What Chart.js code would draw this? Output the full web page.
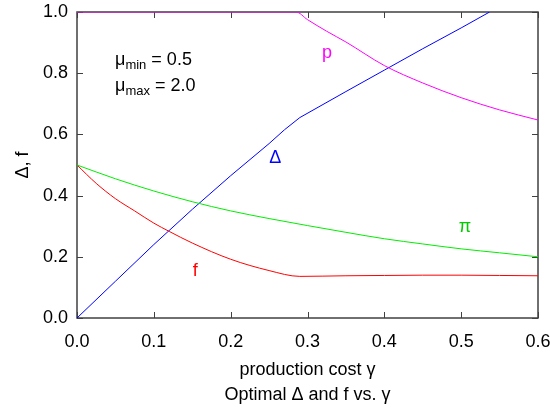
<!DOCTYPE html>
<html>
<head>
<meta charset="utf-8">
<script src="https://cdn.jsdelivr.net/npm/chart.js@4.4.1/dist/chart.umd.min.js"></script>
<style>body{margin:0;background:#fff}</style>
</head>
<body>
<canvas id="c" width="550" height="411"></canvas>
<script>
// values
const deltaX = [0, 0.05, 0.1, 0.15, 0.2, 0.25, 0.27, 0.29, 0.35, 0.4, 0.45, 0.5, 0.537];
const deltaY = [0, 0.12, 0.24, 0.355, 0.465, 0.57, 0.615, 0.655, 0.74, 0.81, 0.88, 0.948, 1.0];

const pX = [0, 0.1, 0.2, 0.285, 0.3, 0.325, 0.35, 0.4, 0.45, 0.5, 0.55, 0.6];
const pY = [1.0, 1.0, 1.0, 1.0, 0.975, 0.937, 0.902, 0.825, 0.768, 0.72, 0.68, 0.647];

const piX = [0, 0.05, 0.1, 0.15, 0.2, 0.25, 0.3, 0.35, 0.4, 0.45, 0.5, 0.55, 0.6];
const piY = [0.5, 0.455, 0.415, 0.38, 0.35, 0.325, 0.302, 0.28, 0.259, 0.242, 0.226, 0.213, 0.2];

const fX = [0, 0.025, 0.05, 0.075, 0.1, 0.12, 0.15, 0.2, 0.25, 0.29, 0.35, 0.4, 0.45, 0.5, 0.55, 0.6];
const fY = [0.5, 0.44, 0.39, 0.35, 0.31, 0.283, 0.245, 0.192, 0.155, 0.136, 0.138, 0.139, 0.14, 0.14, 0.139, 0.138];

const xTicks = [0, 0.1, 0.2, 0.3, 0.4, 0.5, 0.6];
const yTicks = [0, 0.2, 0.4, 0.6, 0.8, 1.0];

function pts(xs, ys){
    return xs.map((x, i) => ({x: x, y: ys[i]}));
}

const FONT = '"Liberation Sans", Arial, sans-serif';

// inward ticks on all four sides + frame
const framePlugin = {
    id: 'frame',
    beforeDatasetsDraw(chart){
        const {ctx, chartArea: a, scales} = chart;
        ctx.save();
        ctx.strokeStyle = '#404040';
        ctx.lineWidth = 1.5;
        ctx.strokeRect(a.left, a.top, a.right - a.left, a.bottom - a.top);
        ctx.lineWidth = 1;
        ctx.beginPath();
        for(let t of xTicks){
            let px = Math.round(scales.x.getPixelForValue(t)) + 0.5;
            ctx.moveTo(px, a.bottom); ctx.lineTo(px, a.bottom - 6);
            ctx.moveTo(px, a.top); ctx.lineTo(px, a.top + 6);
        }
        for(let t of yTicks){
            let py = Math.round(scales.y.getPixelForValue(t)) + 0.5;
            ctx.moveTo(a.left, py); ctx.lineTo(a.left + 6, py);
            ctx.moveTo(a.right, py); ctx.lineTo(a.right - 6, py);
        }
        ctx.stroke();
        ctx.restore();
    }
};

// curve labels, parameter box, axis title and caption
const textPlugin = {
    id: 'texts',
    afterDraw(chart){
        const {ctx, scales, chartArea} = chart;
        const X = v => scales.x.getPixelForValue(v);
        const Y = v => scales.y.getPixelForValue(v);
        ctx.save();
        ctx.textBaseline = 'alphabetic';
        ctx.textAlign = 'center';
        ctx.font = '18px ' + FONT;
        ctx.fillStyle = '#ff00ff'; ctx.fillText('p', X(0.3255), Y(0.85));
        ctx.fillStyle = '#0000ff'; ctx.fillText('Δ', X(0.258), Y(0.508));
        ctx.fillStyle = '#00cc00'; ctx.fillText('π', X(0.505), Y(0.28));
        ctx.fillStyle = '#ff0000'; ctx.fillText('f', X(0.154), Y(0.138));

        ctx.textAlign = 'left';
        ctx.fillStyle = '#000';
        const sub = (base, s, rest, x, y) => {
            ctx.font = '18px ' + FONT;
            ctx.fillText(base, x, y);
            let w = ctx.measureText(base).width;
            ctx.font = '13px ' + FONT;
            ctx.fillText(s, x + w, y + 4);
            let w2 = ctx.measureText(s).width;
            ctx.font = '18px ' + FONT;
            ctx.fillText(rest, x + w + w2, y);
        };
        sub('μ', 'min', ' = 0.5', X(0.0495), Y(0.827));
        sub('μ', 'max', ' = 2.0', X(0.0495), Y(0.743));

        ctx.textAlign = 'center';
        ctx.font = '18px ' + FONT;
        const cx = (chartArea.left + chartArea.right) / 2;
        ctx.fillText('production cost γ', cx, 375);
        ctx.fillText('Optimal Δ and f vs. γ', cx, 400);
        ctx.restore();
    }
};

new Chart(document.getElementById('c'), {
    type: 'line',
    data: {
        datasets: [
            {label: 'p', data: pts(pX, pY), borderColor: '#ff00ff', cubicInterpolationMode: 'monotone'},
            {label: 'pi', data: pts(piX, piY), borderColor: '#00ee00', cubicInterpolationMode: 'monotone'},
            {label: 'f', data: pts(fX, fY), borderColor: '#ff0000', cubicInterpolationMode: 'monotone'},
            {label: 'Delta', data: pts(deltaX, deltaY), borderColor: '#0000ff'}
        ]
    },
    options: {
        responsive: false,
        animation: false,
        elements: {
            line: {borderWidth: 1, tension: 0, fill: false},
            point: {radius: 0}
        },
        layout: {padding: {left: 0, right: 12, top: 12, bottom: 0}},
        plugins: {
            legend: {display: false},
            tooltip: {enabled: false}
        },
        scales: {
            x: {
                type: 'linear',
                min: 0, max: 0.6,
                afterBuildTicks: s => { s.ticks = xTicks.map(v => ({value: v})); },
                afterFit: s => { s.height = 93; s.paddingLeft = 0; s.paddingRight = 0; },
                grid: {display: false, drawTicks: false},
                border: {display: false},
                ticks: {
                    color: '#000', padding: 13, maxRotation: 0,
                    font: {family: FONT, size: 18},
                    callback: v => v.toFixed(1)
                }
            },
            y: {
                type: 'linear',
                min: 0, max: 1,
                afterBuildTicks: s => { s.ticks = yTicks.map(v => ({value: v})); },
                afterFit: s => { s.width = 77; s.paddingTop = 0; s.paddingBottom = 0; },
                grid: {display: false, drawTicks: false},
                border: {display: false},
                ticks: {
                    color: '#000', padding: 9,
                    font: {family: FONT, size: 18},
                    callback: v => v.toFixed(1)
                },
                title: {
                    display: true, text: 'Δ, f', color: '#000',
                    font: {family: FONT, size: 18}, padding: {top: 12, bottom: 4}
                }
            }
        }
    },
    plugins: [framePlugin, textPlugin]
});
</script>
</body>
</html>
